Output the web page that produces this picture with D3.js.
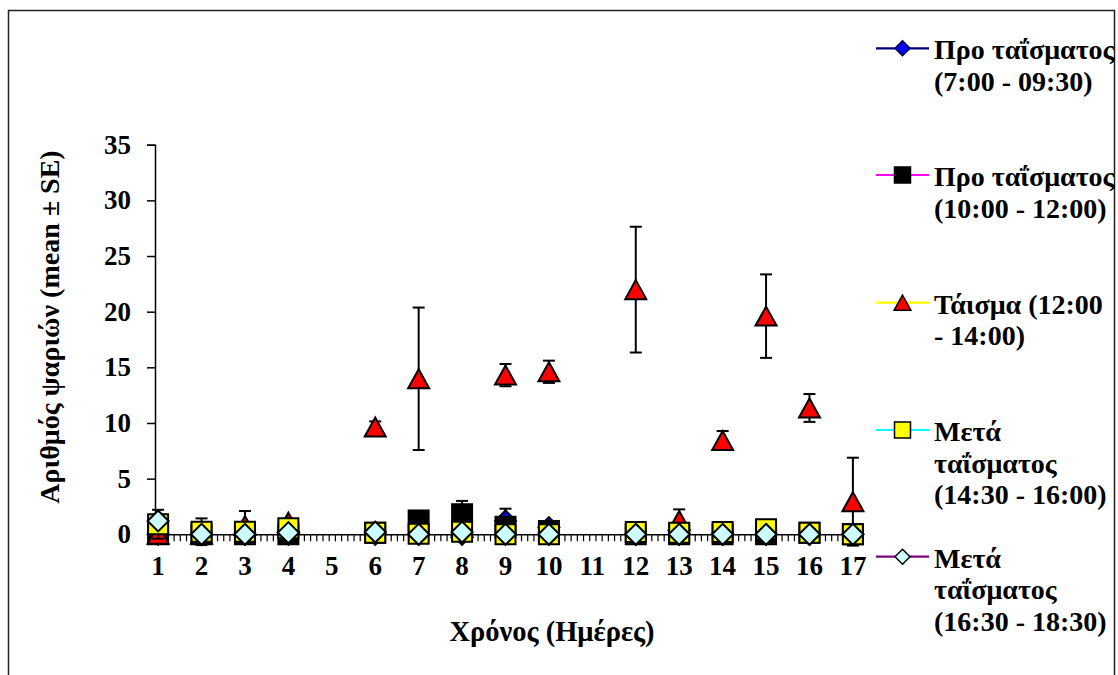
<!DOCTYPE html>
<html>
<head>
<meta charset="utf-8">
<script src="https://cdn.jsdelivr.net/npm/d3@7"></script>
<style>
  html, body { margin: 0; padding: 0; background: #fff; }
  svg { display: block; }
  text { font-family: "Liberation Serif", "DejaVu Serif", serif; font-weight: bold; fill: #000; }
</style>
</head>
<body>
<svg id="chart" width="1118" height="675"></svg>
<script>
// Days of observation (5 and 11 have no records)
const days = [1, 2, 3, 4, 5, 6, 7, 8, 9, 10, 11, 12, 13, 14, 15, 16, 17];
const yTicks = [0, 5, 10, 15, 20, 25, 30, 35];

// Mean number of fish per time slot
const preFeedEarly = [0, 0, 0, 0, null, 0, 0, 0, 1.2, 0.6, null, 0, 0, 0, 0, 0, 0];
const preFeedLate  = [0, 0, 0, 0, null, 0.15, 1.25, 1.8, 0.68, 0.3, null, 0, 0, 0, 0, 0.15, 0];
const feeding      = [0, 0, 0.79, 1.09, null, 9.64, 13.97, 0.61, 14.3, 14.6, null, 21.98, 1.24, 8.43, 19.6, 11.35, 2.93];
const postFeedEarly= [0.9, 0.23, 0.23, 0.55, null, 0.15, 0.05, 0.23, 0, 0, null, 0.2, 0.15, 0.2, 0.45, 0.15, 0];
const postFeedLate = [1.2, 0, 0, 0.15, null, 0.2, 0, 0.2, 0, 0, null, 0, 0, 0, 0, 0, 0];

// Standard errors
const preFeedEarlySE = [0, 0, 0, 0, null, 0, 0, 0, 1.1, 0.4, null, 0, 0, 0, 0, 0, 0];
const preFeedLateSE  = [0, 0, 0, 0, null, 0, 0.2, 1.2, 0.3, 0.2, null, 0, 0, 0, 0, 0, 0];
const feedingSE      = [0, 0, 1.3, 0.3, null, 0.5, 6.4, 0.3, 1.0, 1.0, null, 5.65, 1.0, 0.85, 3.75, 1.25, 3.95];
const postFeedEarlySE= [1.3, 1.2, 0, 0, null, 0, 0, 0, 0, 0, null, 0, 0, 0, 0, 0, 0];
const postFeedLateSE = [0, 0, 0, 0, null, 0, 0, 0, 0, 0, null, 0, 0, 0, 0, 0, 0];

const seriesNames = [
  ["Προ ταΐσματος", "(7:00 - 09:30)"],
  ["Προ ταΐσματος", "(10:00 - 12:00)"],
  ["Τάισμα (12:00", "- 14:00)"],
  ["Μετά", "ταΐσματος", "(14:30 - 16:00)"],
  ["Μετά", "ταΐσματος", "(16:30 - 18:30)"]
];

const series = [
  { name: seriesNames[0], values: preFeedEarly,  se: preFeedEarlySE,  shape: "diamond",  fill: "#0000FF", line: "#000080" },
  { name: seriesNames[1], values: preFeedLate,   se: preFeedLateSE,   shape: "square",   fill: "#000000", line: "#FF00FF" },
  { name: seriesNames[2], values: feeding,       se: feedingSE,       shape: "triangle", fill: "#FF0000", line: "#FFFF00" },
  { name: seriesNames[3], values: postFeedEarly, se: postFeedEarlySE, shape: "square",   fill: "#FFFF00", line: "#00FFFF" },
  { name: seriesNames[4], values: postFeedLate,  se: postFeedLateSE,  shape: "diamond",  fill: "#CCFFFF", line: "#800080" }
];

const svg = d3.select("#chart");

// Outer frame
svg.append("rect")
  .attr("x", 8.5).attr("y", 10.5)
  .attr("width", 1106).attr("height", 700)
  .attr("fill", "none").attr("stroke", "#222").attr("stroke-width", 1.5);

// Each day spans 7 slots on the category axis; markers sit in the middle of a day's first slot
const slot = 1 / 7;
const x = d3.scaleLinear()
  .domain([1 - slot / 2, 17 + slot / 2])
  .range([155, 856]);
const y = d3.scaleLinear().domain([0, 35]).range([534.3, 144.7]);

// Shape paths
function shapePath(shape, s) {
  if (shape === "square") return `M${-s},${-s}H${s}V${s}H${-s}Z`;
  if (shape === "diamond") return `M0,${-s}L${s},0L0,${s}L${-s},0Z`;
  // triangle: bounding box centered on the point
  return `M0,${-s * 0.95}L${s * 1.05},${s * 0.95}L${-s * 1.05},${s * 0.95}Z`;
}
const plotSize = { square: 10, diamond: 10.5, triangle: 10 };
const legendSize = { square: 8, diamond: 7.5, triangle: 8 };
const fontFamily = "'Liberation Serif', 'DejaVu Serif', serif";

// Y axis
const yAxis = d3.axisLeft(y).tickValues(yTicks).tickSize(8).tickPadding(16).tickFormat(d3.format("d"));
const gy = svg.append("g").attr("transform", "translate(155,0)").call(yAxis);
gy.select(".domain").attr("stroke", "#000").attr("stroke-width", 1.5);
gy.selectAll(".tick line").attr("stroke", "#000").attr("stroke-width", 1.5);
gy.selectAll(".tick text")
  .style("font-family", fontFamily)
  .style("font-weight", "bold").style("font-size", "27px").attr("fill", "#000");

// X axis: slot boundaries as small ticks, day numbers as labels
const slotTicks = d3.range(0, 114).map(k => 1 - slot / 2 + k * slot);
const gx = svg.append("g").attr("transform", `translate(0,${y(0)})`);
gx.call(d3.axisBottom(x).tickValues(slotTicks).tickSize(7).tickFormat(""));
gx.select(".domain").attr("stroke", "#000").attr("stroke-width", 1.5);
gx.selectAll(".tick line").attr("stroke", "#000").attr("stroke-width", 1.2);

svg.append("g").selectAll("text")
  .data(days)
  .join("text")
  .attr("x", d => x(d))
  .attr("y", 575)
  .attr("text-anchor", "middle")
  .style("font-size", "27px")
  .text(d => d);

// Axis titles
svg.append("text")
  .attr("transform", "translate(59,327) rotate(-90)")
  .attr("text-anchor", "middle")
  .style("font-size", "28px")
  .text("Αριθμός ψαριών (mean ± SE)");

svg.append("text")
  .attr("x", 552).attr("y", 641)
  .attr("text-anchor", "middle")
  .style("font-size", "28.5px")
  .text("Χρόνος (Ημέρες)");

// Error bars then markers, series by series
const plot = svg.append("g");
series.forEach(s => {
  const pts = days.map((d, i) => ({ day: d, v: s.values[i], e: s.se[i] }))
    .filter(p => p.v !== null);
  const g = plot.append("g");
  const eb = g.selectAll("g.err").data(pts.filter(p => p.e > 0)).join("g").attr("class", "err");
  eb.append("line")
    .attr("x1", p => x(p.day)).attr("x2", p => x(p.day))
    .attr("y1", p => y(p.v - p.e)).attr("y2", p => y(p.v + p.e))
    .attr("stroke", "#000").attr("stroke-width", 2);
  [1, -1].forEach(sign => {
    eb.append("line")
      .attr("x1", p => x(p.day) - 6).attr("x2", p => x(p.day) + 6)
      .attr("y1", p => y(p.v + sign * p.e)).attr("y2", p => y(p.v + sign * p.e))
      .attr("stroke", "#000").attr("stroke-width", 2);
  });
  g.selectAll("path.m").data(pts).join("path").attr("class", "m")
    .attr("transform", p => `translate(${x(p.day)},${y(p.v)})`)
    .attr("d", shapePath(s.shape, plotSize[s.shape]))
    .attr("fill", s.fill).attr("stroke", "#000").attr("stroke-width", 2);
});

// Legend
const legendY = [48.3, 175, 302.7, 430, 556.7];
const legend = svg.append("g");
series.forEach((s, i) => {
  const g = legend.append("g").attr("transform", `translate(0,${legendY[i]})`);
  g.append("line").attr("x1", 876).attr("x2", 929).attr("y1", 0).attr("y2", 0)
    .attr("stroke", s.line).attr("stroke-width", 2.2);
  g.append("path").attr("transform", "translate(902.5,0)")
    .attr("d", shapePath(s.shape, legendSize[s.shape]))
    .attr("fill", s.fill).attr("stroke", i === 0 ? "#000040" : "#000").attr("stroke-width", 1.5);
  const t = g.append("text").attr("x", 934).attr("y", 11).style("font-size", "28px");
  s.name.forEach((line, k) => {
    t.append("tspan").attr("x", 934).attr("y", 11 + k * 31.7).text(line);
  });
});
</script>
</body>
</html>
